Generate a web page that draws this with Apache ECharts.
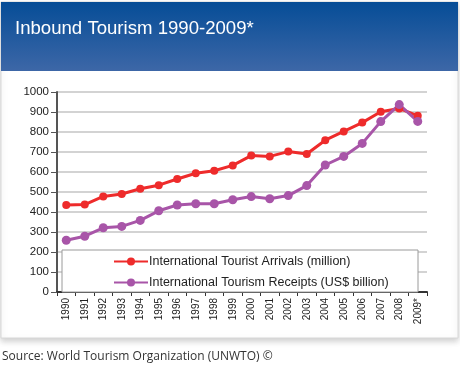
<!DOCTYPE html>
<html>
<head>
<meta charset="utf-8">
<script src="https://cdn.jsdelivr.net/npm/echarts@6/dist/echarts.min.js"></script>
<style>html,body{margin:0;padding:0;background:#fff;}#c{width:460px;height:370px;}</style>
</head>
<body>
<div id="c"></div>
<script>
var years = ['1990','1991','1992','1993','1994','1995','1996','1997','1998','1999','2000','2001','2002','2003','2004','2005','2006','2007','2008','2009*'];
var arrivals = [435, 437, 478, 490, 516, 534, 565, 594, 606, 633, 682, 678, 702, 690, 759, 803, 847, 901, 918, 881];
var receipts = [259, 279, 321, 328, 358, 406, 435, 441, 441, 461, 477, 466, 482, 532, 635, 678, 743, 852, 937, 853];
var yTicks = [0, 1000, 100];
var titleText = 'Inbound Tourism 1990-2009*';
var sourceText = 'Source: World Tourism Organization (UNWTO) \u00a9';
var seriesNames = ['International Tourist Arrivals (million)', 'International Tourism Receipts (US$ billion)'];

var chart = echarts.init(document.getElementById('c'), null, {renderer: 'canvas'});
chart.setOption({
  animation: false,
  backgroundColor: '#fff',
  graphic: [
    {type: 'rect', z: -10, shape: {x: 1, y: 2, width: 457, height: 336},
     style: {fill: '#fff', stroke: '#d8d8d8', lineWidth: 1, shadowBlur: 6, shadowOffsetY: 3, shadowColor: 'rgba(0,0,0,0.18)'}},
    {type: 'rect', z: -9, shape: {x: 1, y: 2, width: 457, height: 69},
     style: {fill: new echarts.graphic.LinearGradient(0, 0, 0, 1, [{offset: 0, color: '#064d97'}, {offset: 1, color: '#3d67a7'}])}},
    {type: 'text', z: 10, x: 15, y: 29,
     style: {text: titleText, fill: '#fff', font: '18.6px "Liberation Sans", Arial, sans-serif', textVerticalAlign: 'middle'}},
    {type: 'text', z: 10, x: 2, y: 357,
     style: {text: sourceText, fill: '#333', font: '12px "Open Sans", sans-serif', textVerticalAlign: 'middle'}},
    {type: 'rect', z: 3, shape: {x: 62, y: 250, width: 356, height: 42},
     style: {fill: '#fff', stroke: '#9a9a9a', lineWidth: 1}}
  ],
  legend: {
    orient: 'vertical', left: 113, top: 254, padding: 0,
    itemWidth: 34, itemHeight: 10, itemGap: 6,
    textStyle: {fontFamily: '"Liberation Sans", Arial, sans-serif', fontSize: 12.5, lineHeight: 15, color: '#222', padding: [0, 0, 0, -4]},
    data: seriesNames
  },
  grid: {left: 57, right: 33, top: 92, bottom: 78, containLabel: false},
  xAxis: {
    type: 'category', data: years, boundaryGap: true,
    axisLine: {lineStyle: {color: '#333', width: 2}},
    axisTick: {show: true, length: 4, interval: 0, lineStyle: {color: '#333'}},
    axisLabel: {rotate: 90, interval: 0, margin: 6, fontSize: 10, color: '#222', fontFamily: '"Liberation Sans Narrow", "Liberation Sans", Arial, sans-serif'}
  },
  yAxis: {
    type: 'value', min: yTicks[0], max: yTicks[1], interval: yTicks[2],
    axisLine: {show: true, lineStyle: {color: '#555', width: 2}},
    axisTick: {show: true, length: 6, lineStyle: {color: '#555'}},
    axisLabel: {fontSize: 11.5, color: '#222', margin: 8, fontFamily: '"Liberation Sans", Arial, sans-serif',
      formatter: function (v) { return String(v); }},
    splitLine: {lineStyle: {color: '#c4c4c4', width: 1.5}}
  },
  series: [
    {name: seriesNames[0], type: 'line', data: arrivals, symbol: 'circle', symbolSize: 8,
     itemStyle: {color: '#ee2b2b'}, lineStyle: {color: '#ee2b2b', width: 3}},
    {name: seriesNames[1], type: 'line', data: receipts, symbol: 'circle', symbolSize: 9,
     itemStyle: {color: '#a855a8'}, lineStyle: {color: '#a855a8', width: 3}}
  ]
});
</script>
</body>
</html>
